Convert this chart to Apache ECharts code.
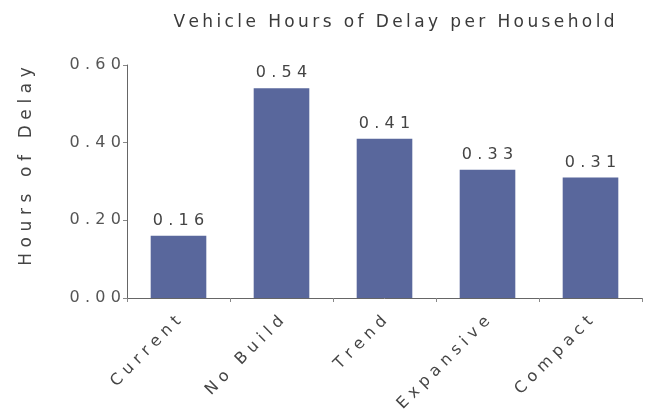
<!DOCTYPE html>
<html><head><meta charset="utf-8">
<script src="https://cdn.jsdelivr.net/npm/echarts@6/dist/echarts.min.js"></script>
<style>html,body{margin:0;padding:0;background:#fff}#c{width:670px;height:410px}</style>
</head><body><div id="c"></div>
<script>
const categories = ["Current", "No Build", "Trend", "Expansive", "Compact"];
const delayValues = [0.16, 0.54, 0.41, 0.33, 0.31];
const yTicks = [0, 0.2, 0.4, 0.6];

const sp = (s, ch) => s.split('').join(ch);
const THIN = '\u2009', EN = '\u2002', THREE = '\u2004';
const FONT = 'DejaVu Sans';
const chart = echarts.init(document.getElementById('c'));
chart.setOption({
  animation: false,
  backgroundColor: '#fff',
  title: {
    text: sp('Vehicle Hours of Delay per Household', THIN),
    left: 389, top: 9, textAlign: 'center',
    textStyle: {fontFamily: FONT, fontSize: 17, fontWeight: 'normal', color: '#3a3a3a'}
  },
  grid: {left: 127, right: 28, top: 65, bottom: 112, containLabel: false, outerBoundsMode: 'none'},
  xAxis: {
    type: 'category', data: categories,
    axisLine: {lineStyle: {color: '#666'}},
    axisTick: {show: true, lineStyle: {color: '#888'}, length: 4},
    axisLabel: {
      rotate: 45, interval: 0, margin: 21,
      fontFamily: FONT, fontSize: 16, color: '#444',
      formatter: v => sp(v, THREE)
    }
  },
  yAxis: {
    type: 'value', min: yTicks[0], max: yTicks[yTicks.length - 1], interval: 0.2,
    name: sp('Hours of Delay', THREE), nameLocation: 'middle', nameGap: 92, nameRotate: 90,
    nameTextStyle: {fontFamily: FONT, fontSize: 17, color: '#444', padding: [0, 0, 0, 30]},
    axisLine: {show: true, lineStyle: {color: '#666'}},
    axisTick: {show: true, length: 4, lineStyle: {color: '#888'}},
    splitLine: {show: false},
    axisLabel: {
      fontFamily: FONT, fontSize: 16, color: '#555', margin: 6,
      formatter: v => sp(v.toFixed(2), THREE)
    }
  },
  series: [{
    type: 'bar', data: delayValues, barWidth: '54%',
    itemStyle: {color: '#59679c'},
    label: {
      show: true, position: 'top', distance: 7,
      fontFamily: FONT, fontSize: 16, color: '#444',
      formatter: p => sp(p.value.toFixed(2), THREE)
    }
  }]
});
</script></body></html>
